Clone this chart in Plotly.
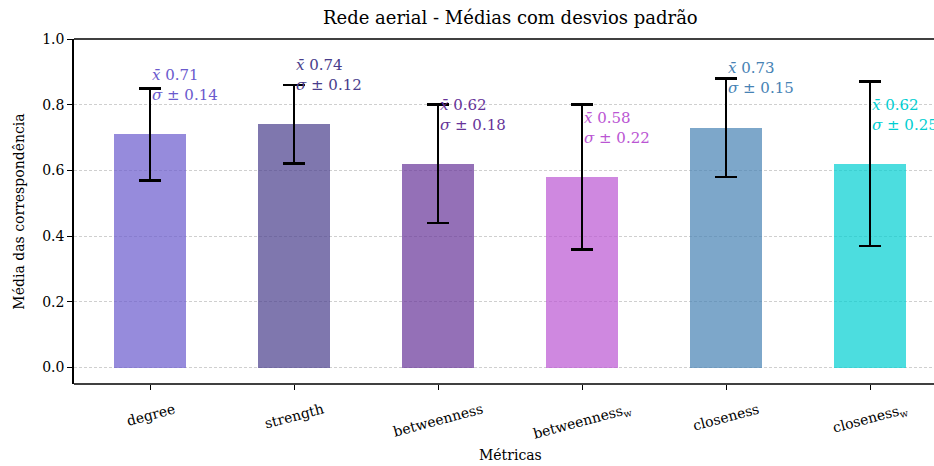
import plotly.graph_objects as go

# Metrics and their mean correspondence with standard deviation
metricas = ["degree", "strength", "betweenness", "betweenness<sub>w</sub>", "closeness", "closeness<sub>w</sub>"]
medias = [0.71, 0.74, 0.62, 0.58, 0.73, 0.62]
desvios = [0.14, 0.12, 0.18, 0.22, 0.15, 0.25]
cores = ["#6A5ACD", "#483D8B", "#663399", "#BA55D3", "#4682B4", "#00CED1"]
y_ticks = [0.0, 0.2, 0.4, 0.6, 0.8, 1.0]

FONT = "DejaVu Serif"


def rgba(hex_color, alpha):
    h = hex_color.lstrip("#")
    r, g, b = int(h[0:2], 16), int(h[2:4], 16), int(h[4:6], 16)
    return f"rgba({r},{g},{b},{alpha})"


xs = list(range(len(metricas)))

fig = go.Figure()
fig.add_trace(go.Bar(
    x=xs,
    y=medias,
    width=0.5,
    marker=dict(color=[rgba(c, 0.7) for c in cores], line=dict(width=0)),
    error_y=dict(type="data", array=desvios, visible=True,
                 color="black", thickness=2.8, width=11),
    showlegend=False,
))

annotations = []
# mean / std labels next to each bar
for x, m, s, c in zip(xs, medias, desvios, cores):
    annotations.append(dict(
        x=x, y=m + 0.15, xref="x", yref="y",
        text=f"<i>x̄</i> {m:.2f}<br><i>σ</i> ± {s:.2f}",
        showarrow=False, xanchor="left", yanchor="middle", align="left",
        font=dict(family=FONT, size=15, color=c),
    ))

# rotated category labels
for x, name in zip(xs, metricas):
    annotations.append(dict(
        x=x, y=-0.05, xref="x", yref="y", yshift=-14,
        text=name, showarrow=False, textangle=-15,
        xanchor="center", yanchor="top",
        font=dict(family=FONT, size=14, color="black"),
    ))

annotations.append(dict(
    x=2.5, y=1.0, xref="x", yref="y", yshift=9,
    text="Rede aerial - Médias com desvios padrão", showarrow=False,
    xanchor="center", yanchor="bottom",
    font=dict(family=FONT, size=18, color="black"),
))
annotations.append(dict(
    x=2.5, y=0, xref="x", yref="paper", yshift=-61,
    text="Métricas", showarrow=False,
    xanchor="center", yanchor="top",
    font=dict(family=FONT, size=14, color="black"),
))

# top and bottom spines
shapes = [
    dict(type="line", xref="paper", yref="paper", x0=0, x1=1, y0=1, y1=1,
         line=dict(color="black", width=1.5)),
    dict(type="line", xref="paper", yref="paper", x0=0, x1=1, y0=0, y1=0,
         line=dict(color="black", width=1.5)),
]

fig.update_layout(
    width=934, height=466,
    margin=dict(l=74, r=0, t=39, b=82),
    plot_bgcolor="white", paper_bgcolor="white",
    font=dict(family=FONT, size=14, color="black"),
    annotations=annotations,
    shapes=shapes,
    bargap=0,
)
fig.update_xaxes(
    range=[-0.528, 5.444],
    tickvals=xs, ticktext=[""] * len(xs),
    ticks="outside", ticklen=5, tickwidth=1.2, tickcolor="black",
    showline=False, showgrid=False, zeroline=False,
)
fig.update_yaxes(
    range=[-0.05, 1.0],
    tickvals=y_ticks, ticktext=[f"{v:.1f}" for v in y_ticks],
    ticks="outside", ticklen=5, tickwidth=1.2, tickcolor="black",
    showline=True, linecolor="black", linewidth=1.5,
    showgrid=True, gridcolor="#cfcfcf", griddash="3px,2px", gridwidth=0.8,
    zeroline=False,
    title=dict(text="Média das correspondência", font=dict(family=FONT, size=14), standoff=14),
    tickfont=dict(family=FONT, size=14),
)

fig.write_html("out.html")
